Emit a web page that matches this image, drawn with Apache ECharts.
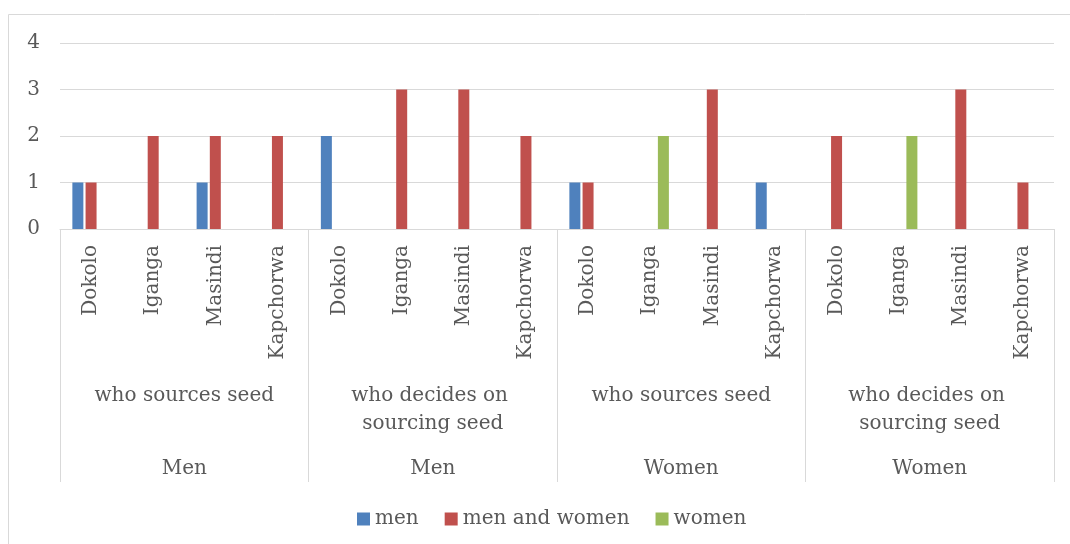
<!DOCTYPE html>
<html>
<head>
<meta charset="utf-8">
<script src="https://cdn.jsdelivr.net/npm/echarts@6/dist/echarts.min.js"></script>
<style>
  html, body { margin: 0; padding: 0; background: #fff; }
  #chart { width: 1070px; height: 544px; }
</style>
</head>
<body>
<div id="chart"></div>
<script>
// Districts (innermost category level), repeated for each question group
const districts = [
  'Dokolo', 'Iganga', 'Masindi', 'Kapchorwa',
  'Dokolo', 'Iganga', 'Masindi', 'Kapchorwa',
  'Dokolo', 'Iganga', 'Masindi', 'Kapchorwa',
  'Dokolo', 'Iganga', 'Masindi', 'Kapchorwa'
];
// Question groups (middle level)
const questions = ['who sources seed', 'who decides on sourcing seed', 'who sources seed', 'who decides on sourcing seed'];
// Respondent groups (outer level)
const respondents = ['Men', 'Men', 'Women', 'Women'];

// Counts per answer
const seriesNames = ['men', 'men and women', 'women'];
const menValues      = [1, 0, 1, 0, 2, 0, 0, 0, 1, 0, 0, 1, 0, 0, 0, 0];
const bothValues     = [1, 2, 2, 2, 0, 3, 3, 2, 1, 0, 3, 0, 2, 0, 3, 1];
const womenValues    = [0, 0, 0, 0, 0, 0, 0, 0, 0, 2, 0, 0, 0, 2, 0, 0];
const yTicks = [0, 1, 2, 3, 4];

const colors = ['#4F81BD', '#C0504D', '#9BBB59'];
const textColor = '#595959';
const lineColor = '#D9D9D9';
const fontFamily = '"DejaVu Serif", serif';

// Group keys must be unique on a category axis; labels show the plain text
const questionKeys = questions.map((q, i) => q + '#' + i);
const respondentKeys = respondents.map((r, i) => r + '#' + i);
const stripKey = v => String(v).split('#')[0];

const chart = echarts.init(document.getElementById('chart'), null, { renderer: 'canvas' });

const barSeries = [menValues, bothValues, womenValues].map((vals, i) => ({
  name: seriesNames[i],
  type: 'bar',
  xAxisIndex: 0,
  data: vals,
  barWidth: 11,
  barGap: '20%',
  itemStyle: { color: colors[i] }
}));

chart.setOption({
  animation: false,
  textStyle: { fontFamily: fontFamily },
  graphic: [{
    type: 'rect',
    shape: { x: 8.5, y: 14.5, width: 1200, height: 800 },
    style: { fill: 'none', stroke: lineColor, lineWidth: 1 },
    silent: true,
    z: -10
  }],
  grid: { left: 60, right: 16, top: 43, bottom: 315, containLabel: false },
  legend: {
    bottom: 10,
    left: 352,
    itemWidth: 13,
    itemHeight: 13,
    itemGap: 26,
    icon: 'rect',
    textStyle: { color: textColor, fontSize: 20, fontFamily: fontFamily },
    data: seriesNames
  },
  xAxis: [
    {
      type: 'category',
      data: districts,
      position: 'bottom',
      axisLine: { show: true, lineStyle: { color: lineColor, width: 1 } },
      axisTick: { show: false },
      axisLabel: {
        interval: 0,
        rotate: 90,
        margin: 16,
        color: textColor,
        fontSize: 20,
        fontFamily: fontFamily
      }
    },
    {
      type: 'category',
      data: questionKeys,
      position: 'bottom',
      axisLine: { show: false },
      axisTick: {
        show: true,
        interval: 0,
        length: 253,
        lineStyle: { color: lineColor, width: 1 }
      },
      axisLabel: {
        interval: 0,
        margin: 153,
        verticalAlign: 'top',
        lineHeight: 28,
        width: 210,
        overflow: 'break',
        align: 'center',
        color: textColor,
        fontSize: 20,
        fontFamily: fontFamily,
        formatter: stripKey
      }
    },
    {
      type: 'category',
      data: respondentKeys,
      position: 'bottom',
      axisLine: { show: false },
      axisTick: { show: false },
      axisLabel: {
        interval: 0,
        margin: 226,
        verticalAlign: 'top',
        lineHeight: 28,
        color: textColor,
        fontSize: 20,
        fontFamily: fontFamily,
        formatter: stripKey
      }
    }
  ],
  yAxis: {
    type: 'value',
    min: yTicks[0],
    max: yTicks[yTicks.length - 1],
    interval: 1,
    axisLine: { show: false },
    axisTick: { show: false },
    splitLine: { show: true, lineStyle: { color: lineColor, width: 1 } },
    axisLabel: {
      margin: 20,
      color: textColor,
      fontSize: 20,
      fontFamily: fontFamily
    }
  },
  series: barSeries
});
</script>
</body>
</html>
